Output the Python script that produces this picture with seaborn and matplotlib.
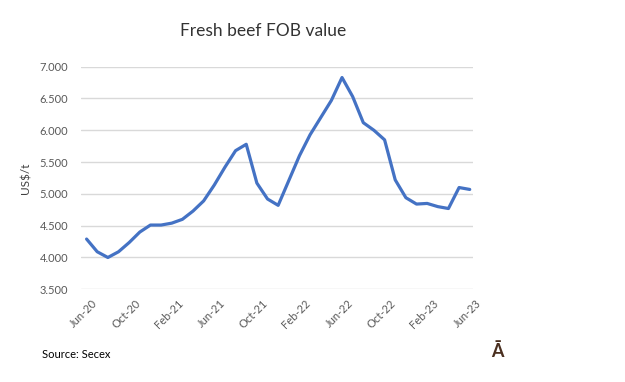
import numpy as np
import pandas as pd
import matplotlib
matplotlib.use("Agg")
import matplotlib.pyplot as plt
import seaborn as sns
from matplotlib.ticker import FuncFormatter
from matplotlib.transforms import ScaledTranslation

# monthly FOB value, Jun-20 .. Jun-23 (US$/t)
months = pd.date_range("2020-06-01", "2023-06-01", freq="MS")
values = [4290, 4090, 4000, 4090, 4235, 4400, 4510, 4510, 4540, 4600,
          4730, 4890, 5140, 5420, 5680, 5780, 5170, 4920, 4820, 5210,
          5600, 5930, 6200, 6470, 6830, 6530, 6120, 6000, 5850, 5220,
          4940, 4840, 4850, 4800, 4770, 5100, 5070]
tick_step = 4

df = pd.DataFrame({"idx": np.arange(len(months)), "value": values,
                   "label": months.strftime("%b-%y")})

sns.set_theme(style="white")
plt.rcParams['font.family'] = ['Lato', 'DejaVu Sans']

fig = plt.figure(figsize=(6.25, 3.82), dpi=100)
ax = fig.add_axes([0.129, 0.2427, 0.627, 0.5827])

sns.lineplot(data=df, x="idx", y="value", color="#4472C4", linewidth=2.3, ax=ax)

# y axis: 3.500 .. 7.000 with dot as thousands separator
ax.set_ylim(3500, 7000)
ax.set_yticks(np.arange(3500, 7001, 500))
ax.yaxis.set_major_formatter(FuncFormatter(lambda v, p: f"{v / 1000:.3f}"))

ax.set_xlim(-0.56, len(months) - 0.74)
ax.set_xticks(df["idx"][::tick_step])
ax.set_xticklabels(df["label"][::tick_step], rotation=45, ha="right",
                   rotation_mode="anchor")
ax.tick_params(axis="both", labelsize=8, colors="#595959", length=0)
ax.tick_params(axis="y", pad=9)
ax.tick_params(axis="x", pad=6)
shift = ScaledTranslation(4 / 72, 0, fig.dpi_scale_trans)
for lbl in ax.get_xticklabels():
    lbl.set_transform(lbl.get_transform() + shift)

ax.grid(axis="y", color="#d9d9d9", linewidth=1)
ax.set_axisbelow(True)
for s in ax.spines.values():
    s.set_visible(False)

ax.set_xlabel("")
ax.set_ylabel("US$/t", fontsize=8.5, color="#404040", labelpad=6)

fig.text(0.421, 0.92, "Fresh beef FOB value", ha="center", va="center",
         fontsize=12.5, color="#333333")
fig.text(0.067, 0.073, "Source: Secex", ha="left", va="center",
         fontsize=8, color="#000000")
fig.text(0.796, 0.08, "Ā", ha="center", va="center", fontsize=13,
         fontweight="bold", color="#4a2f1f")

fig.savefig("out.png", dpi=100)
